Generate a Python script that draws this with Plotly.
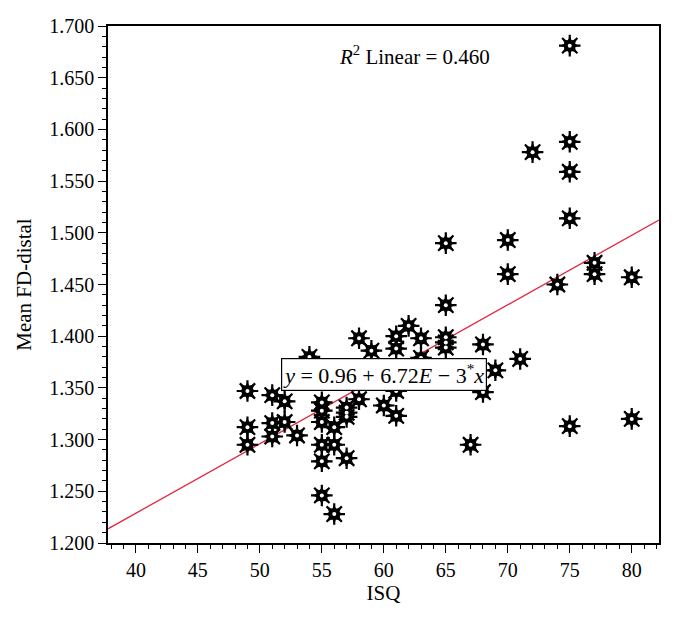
import plotly.graph_objects as go

# ISQ values and mean FD-distal
isq = [
    49, 49, 49,
    51, 51, 51,
    52, 52,
    53,
    54,
    55, 55, 55, 55, 55, 55,
    56, 56, 56,
    57, 57, 57, 57,
    58, 58,
    59,
    60,
    61, 61, 61, 61,
    62,
    63, 63,
    65, 65, 65, 65, 65,
    67,
    68, 68,
    69,
    70, 70,
    71,
    72,
    74,
    75, 75, 75, 75, 75,
    77, 77,
    80, 80,
]
fd_distal = [
    1.347, 1.312, 1.295,
    1.343, 1.316, 1.303,
    1.337, 1.317,
    1.304,
    1.380,
    1.336, 1.328, 1.317, 1.295, 1.279, 1.246,
    1.312, 1.295, 1.228,
    1.331, 1.326, 1.322, 1.282,
    1.398, 1.339,
    1.386,
    1.333,
    1.400, 1.388, 1.347, 1.323,
    1.410,
    1.398, 1.379,
    1.490, 1.430, 1.399, 1.394, 1.389,
    1.295,
    1.392, 1.346,
    1.367,
    1.493, 1.460,
    1.378,
    1.578,
    1.450,
    1.681, 1.588, 1.559, 1.514, 1.313,
    1.471, 1.460,
    1.457, 1.320,
]

intercept = 0.96
slope = 6.72e-3
x_range = [37.75, 82.2]
y_range = [1.2, 1.7]
font_family = "Liberation Serif"

fig = go.Figure()

# fit line across the full x range
fig.add_trace(
    go.Scatter(
        x=x_range,
        y=[intercept + slope * v for v in x_range],
        mode="lines",
        line=dict(color="#e3263f", width=1.3),
        hoverinfo="skip",
    )
)

# star marker built from layers: thin spikes, tapered body, white hole
layers = [
    dict(symbol="asterisk-open", size=18, color="black", line=dict(width=2.2, color="black")),
    dict(symbol="star-diamond", size=14, color="black", line=dict(width=0)),
    dict(symbol="star-square", size=14, color="black", line=dict(width=0)),
    dict(symbol="circle", size=4, color="white", line=dict(width=0)),
]
for i, marker in enumerate(layers):
    fig.add_trace(
        go.Scatter(
            x=isq,
            y=fd_distal,
            mode="markers",
            marker=marker,
            hovertemplate="ISQ %{x}<br>FD %{y:.3f}<extra></extra>" if i == 0 else None,
            hoverinfo=None if i == 0 else "skip",
        )
    )

fig.add_annotation(
    x=62.5, y=1.671,
    text="<i>R</i><sup>2</sup> Linear = 0.460",
    showarrow=False,
    font=dict(family=font_family, size=21, color="black"),
)
fig.add_annotation(
    x=60.0, y=1.3628,
    text="<i>y</i> = 0.96 + 6.72<i>E</i> − 3<sup>*</sup><i>x</i>",
    showarrow=False,
    font=dict(family=font_family, size=22, color="black"),
    bgcolor="white",
    bordercolor="black",
    borderwidth=1.2,
    borderpad=1,
)

axis_common = dict(
    showgrid=False,
    zeroline=False,
    showline=True,
    linecolor="black",
    linewidth=1.5,
    mirror=True,
    ticks="outside",
    ticklen=8,
    tickcolor="black",
    tickfont=dict(family=font_family, size=20, color="black"),
)

fig.update_xaxes(
    range=x_range,
    tick0=40,
    dtick=5,
    minor=dict(dtick=1, ticks="outside", ticklen=4, tickcolor="black"),
    title=dict(text="ISQ", font=dict(family=font_family, size=21, color="black"), standoff=6),
    **axis_common,
)
fig.update_yaxes(
    range=y_range,
    tick0=1.2,
    dtick=0.05,
    tickformat=".3f",
    minor=dict(dtick=0.01, ticks="outside", ticklen=4, tickcolor="black"),
    title=dict(text="Mean FD-distal", font=dict(family=font_family, size=21, color="black"), standoff=12),
    **axis_common,
)

fig.update_layout(
    width=660,
    height=606,
    margin=dict(l=100, r=7, t=15, b=71),
    plot_bgcolor="white",
    paper_bgcolor="white",
    showlegend=False,
    font=dict(family=font_family, color="black"),
)

fig.write_html("out.html")
